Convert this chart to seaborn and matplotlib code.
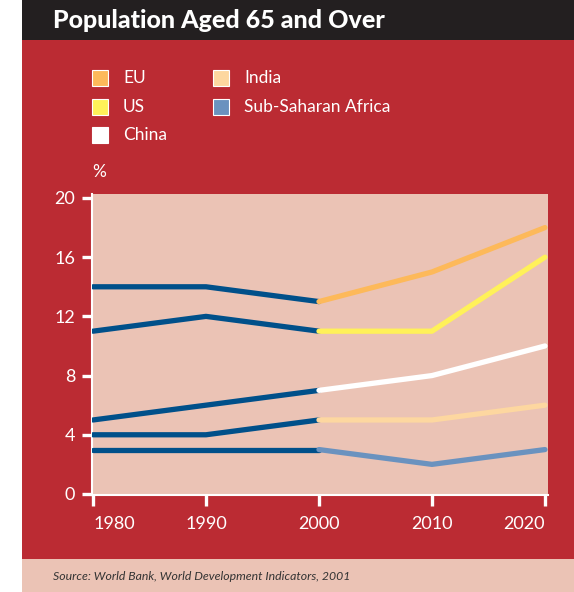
import matplotlib
matplotlib.use("Agg")
import matplotlib.pyplot as plt
from matplotlib.patches import Rectangle
import seaborn as sns
import pandas as pd

# ---- data ----
years = [1980, 1990, 2000, 2010, 2020]
series_names = ["EU", "US", "China", "India", "Sub-Saharan Africa"]
eu = [14, 14, 13, 15, 18]
us = [11, 12, 11, 11, 16]
china = [5, 6, 7, 8, 10]
india = [4, 4, 5, 5, 6]
ssa = [3, 3, 3, 2, 3]
values = [eu, us, china, india, ssa]
y_ticks = [0, 4, 8, 12, 16, 20]
x_ticks = [1980, 1990, 2000, 2010, 2020]
split_year = 2000

title = "Population Aged 65 and Over"
unit = "%"
source = "Source: World Bank, World Development Indicators, 2001"

# ---- style ----
proj_colors = ["#fdb95a", "#fff159", "#ffffff", "#fdd7a0", "#6a92bf"]
hist_color = "#00508a"
red = "#bb2b33"
pink = "#ebc3b5"
dark = "#231f20"
W, H = 574, 592

sns.set_theme(style="white")
plt.rcParams["font.family"] = ["Lato", "DejaVu Sans"]

fig = plt.figure(figsize=(W / 100, H / 100), dpi=100, facecolor="white")

def fx(x):
    return x / W

def fy(y):
    return 1 - y / H

def rect(x0, y0, x1, y1, color):
    fig.add_artist(Rectangle((fx(x0), fy(y1)), fx(x1) - fx(x0), fy(y0) - fy(y1),
                             transform=fig.transFigure, facecolor=color,
                             edgecolor="none", zorder=-10))

rect(22, 0, W, 40, dark)
rect(22, 40, W, 559, red)
rect(22, 559, W, H, pink)

fig.text(fx(53), fy(21), title, color="white", fontsize=18, fontweight="black",
         ha="left", va="center")

ax = fig.add_axes([fx(92), fy(495), fx(548) - fx(92), fy(194) - fy(495)])
ax.set_facecolor(pink)

rows = []
for name, vals in zip(series_names, values):
    for yr, v in zip(years, vals):
        rows.append({"year": yr, "value": v, "series": name})
df = pd.DataFrame(rows)

lw = 3.8
for name in series_names:
    d = df[(df.series == name) & (df.year <= split_year)]
    sns.lineplot(data=d, x="year", y="value", color=hist_color, linewidth=lw,
                 ax=ax, solid_capstyle="round", zorder=3)
for name, c in zip(series_names, proj_colors):
    d = df[(df.series == name) & (df.year >= split_year)]
    sns.lineplot(data=d, x="year", y="value", color=c, linewidth=lw,
                 ax=ax, solid_capstyle="round", zorder=4)

ax.set_xlim(1979.91, 2020.27)
ax.set_ylim(-0.07, 20.27)
ax.set_xticks(x_ticks)
ax.set_yticks(y_ticks)
ax.set_xlabel("")
ax.set_ylabel("")
for s in ["top", "right"]:
    ax.spines[s].set_visible(False)
for s in ["left", "bottom"]:
    ax.spines[s].set_color("white")
    ax.spines[s].set_linewidth(1.5)
ax.tick_params(axis="both", colors="white", labelcolor="white", labelsize=13,
               direction="out", width=2.4)
ax.tick_params(axis="y", length=7, pad=5, left=True)
ax.tick_params(axis="x", length=8, pad=7, bottom=True)
ax.grid(False)
xlabels = ax.get_xticklabels()
xlabels[0].set_horizontalalignment("left")
xlabels[-1].set_horizontalalignment("right")

# legend (manual)
leg_pos = [(92, 78), (92, 107), (92, 135), (213, 78), (213, 107)]
for (lx, ly), name, c in zip(leg_pos, series_names, proj_colors):
    fig.add_artist(Rectangle((fx(lx), fy(ly + 8)), fx(16), 16 / H,
                             transform=fig.transFigure, facecolor=c,
                             edgecolor="white", linewidth=0.8))
    fig.text(fx(lx + 31), fy(ly), name, color="white", fontsize=12.5,
             ha="left", va="center")

fig.text(fx(92), fy(172), unit, color="white", fontsize=12.5, ha="left", va="center")
fig.text(fx(53), fy(577), source, color="#333333", fontsize=8.8, style="italic",
         ha="left", va="center")

fig.savefig("out.png", dpi=100, facecolor="white")
